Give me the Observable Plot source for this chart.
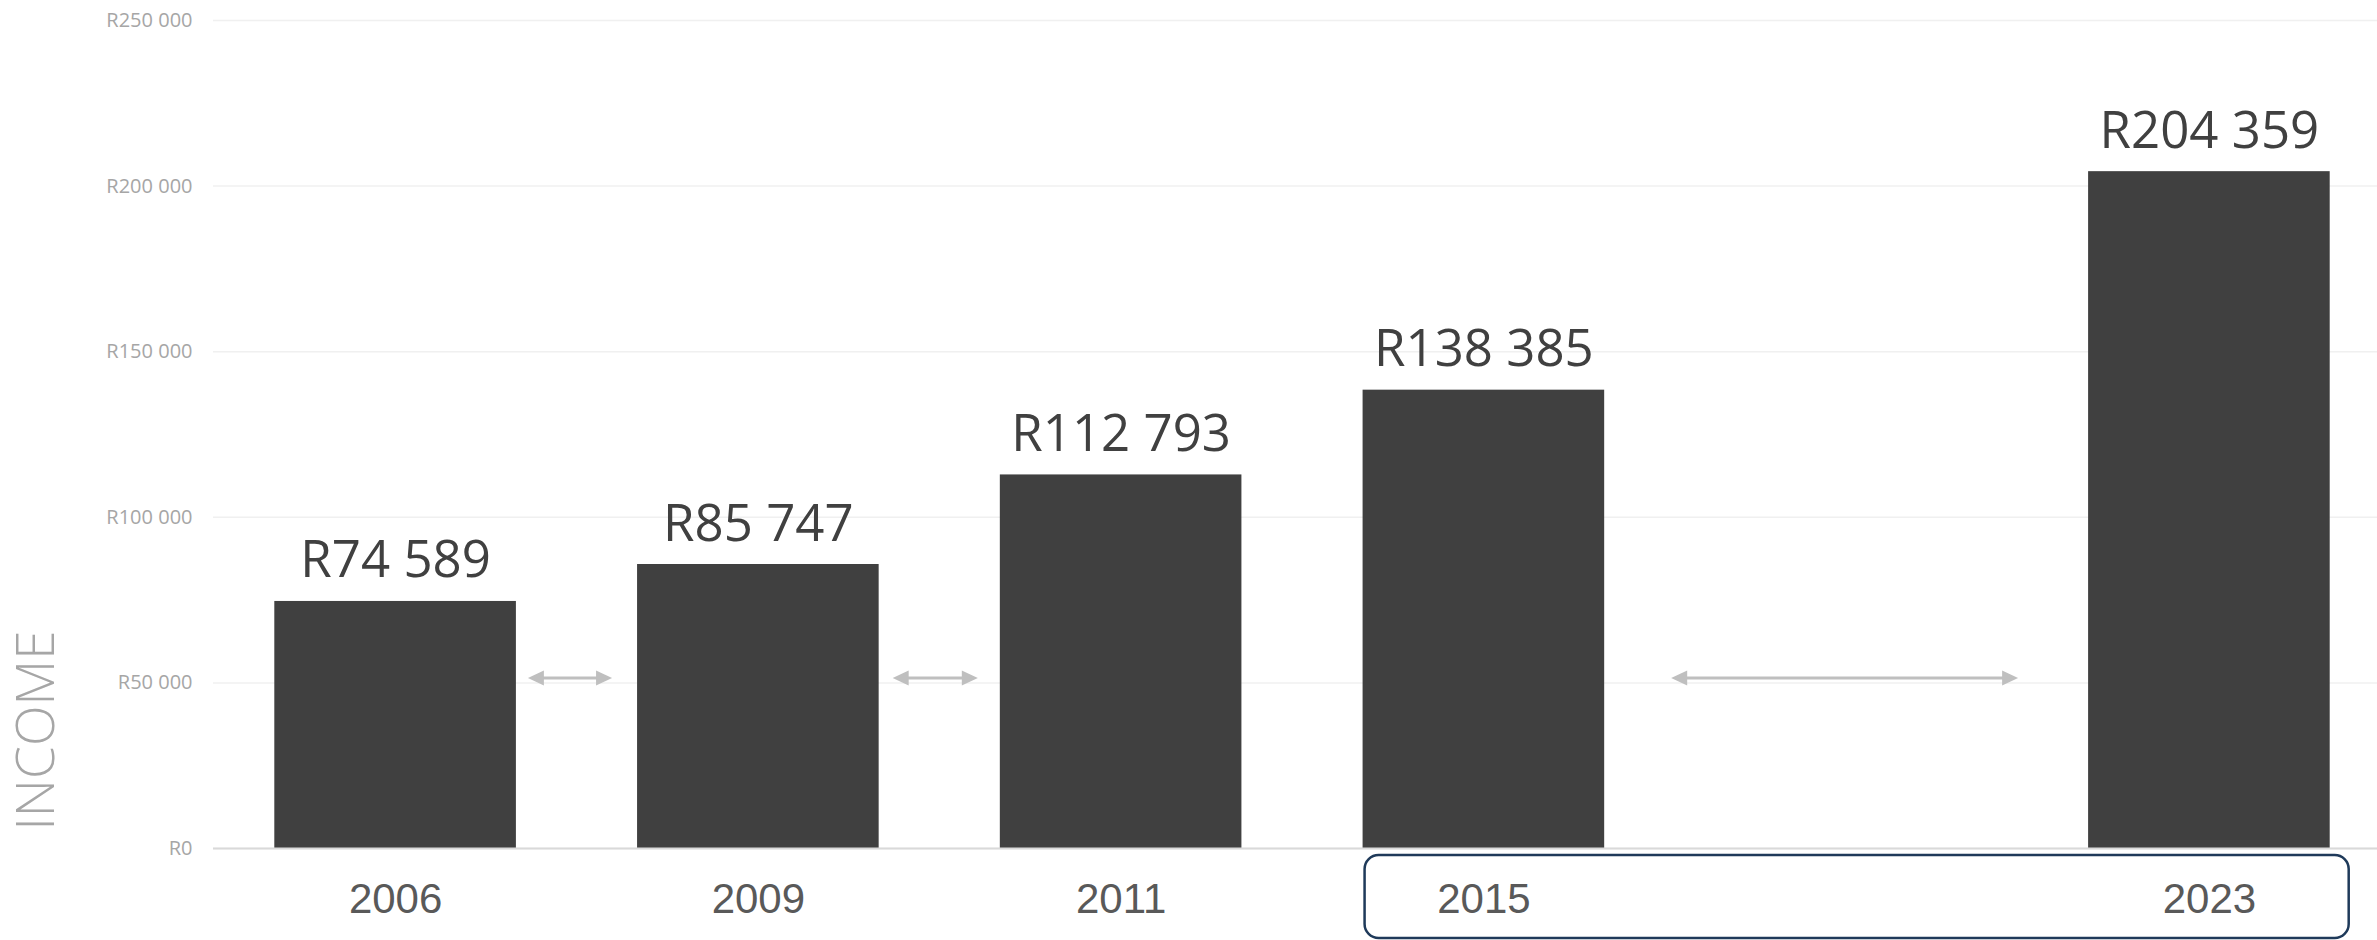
<!DOCTYPE html>
<html>
<head>
<meta charset="utf-8">
<script src="https://cdn.jsdelivr.net/npm/d3@7"></script>
<script src="https://cdn.jsdelivr.net/npm/@observablehq/plot@0.6"></script>
<style>
  html, body { margin: 0; padding: 0; background: #ffffff; }
  #chart svg { display: block; }
</style>
</head>
<body>
<div id="chart"></div>
<script>
// ---- data ----
const years = ["2006", "2009", "2011", "2015", "2023"];
const incomes = [74589, 85747, 112793, 138385, 204359];
const slots = ["2006", "2009", "2011", "2015", "gap", "2023"]; // empty slot between 2015 and 2023
const yTicks = [0, 50000, 100000, 150000, 200000, 250000];
const axisTitle = "INCOME";
const arrowPairs = [["2006", "2009"], ["2009", "2011"], ["2015", "2023"]];
const arrowLevel = 51300;
const boxedYears = ["2015", "2023"];

const data = years.map((year, i) => ({year, income: incomes[i]}));
const fmtR = (v) => "R" + d3.format(",")(v).replace(/,/g, " ");

// ---- styling ----
const arrowInsets = [[12, 25], [14, 22], [67, 70]];
const head = 16, headHalf = 7.5;

function annotations(index, scales, values, dimensions) {
  const x = scales.x, y = scales.y, bw = x.bandwidth();
  const g = d3.create("svg:g");
  arrowPairs.forEach(([a, b], i) => {
    const [s, e] = arrowInsets[i];
    const x0 = x(a) + bw + s, x1 = x(b) - e, yy = y(arrowLevel);
    g.append("line")
      .attr("x1", x0 + head - 2).attr("x2", x1 - head + 2)
      .attr("y1", yy).attr("y2", yy)
      .attr("stroke", "#bfbfbf").attr("stroke-width", 3);
    g.append("path")
      .attr("d", `M${x0},${yy}L${x0 + head},${yy - headHalf}L${x0 + head},${yy + headHalf}Z`)
      .attr("fill", "#bfbfbf");
    g.append("path")
      .attr("d", `M${x1},${yy}L${x1 - head},${yy - headHalf}L${x1 - head},${yy + headHalf}Z`)
      .attr("fill", "#bfbfbf");
  });
  const bx0 = x(boxedYears[0]) + 2;
  const bx1 = x(boxedYears[1]) + bw + 19;
  const by0 = dimensions.height - dimensions.marginBottom + 7;
  g.append("rect")
    .attr("x", bx0).attr("y", by0)
    .attr("width", bx1 - bx0).attr("height", 83)
    .attr("rx", 14).attr("ry", 14)
    .attr("fill", "none")
    .attr("stroke", "#1f3a5a").attr("stroke-width", 2.5);
  return g.node();
}

const chart = Plot.plot({
  width: 2377,
  height: 940,
  marginLeft: 213,
  marginRight: -14,
  marginTop: 20,
  marginBottom: 92,
  style: {background: "#ffffff"},
  x: {type: "band", domain: slots, paddingInner: 0.334, paddingOuter: 0.169, round: false},
  y: {domain: [0, 250000]},
  marks: [
    Plot.gridY(yTicks, {stroke: "#f0f0f0", strokeOpacity: 1, strokeWidth: 1.5}),
    Plot.axisY({
      ticks: yTicks, tickSize: 0, tickPadding: 21, tickFormat: fmtR, label: null,
      fontSize: 20, fill: "#a6a6a6", fontFamily: "Open Sans"
    }),
    Plot.axisX({
      ticks: years, tickSize: 0, tickPadding: 35, label: null,
      fontSize: 42, fill: "#595959", fontFamily: "Liberation Sans"
    }),
    Plot.barY(data, {x: "year", y: "income", fill: "#404040"}),
    Plot.ruleY([0], {stroke: "#d9d9d9", strokeWidth: 2}),
    Plot.text(data, {
      x: "year", y: "income", text: (d) => fmtR(d.income),
      lineAnchor: "bottom", dy: -24,
      fontSize: 51, fill: "#404040", fontFamily: "Open Sans"
    }),
    Plot.text([axisTitle], {
      frameAnchor: "bottom-left", rotate: -90, dx: -176, dy: -118,
      textAnchor: "middle", lineAnchor: "middle",
      fontSize: 53, fontWeight: 300, fill: "#a6a6a6", fontFamily: "Open Sans"
    }),
    annotations
  ]
});
document.getElementById("chart").appendChild(chart);
</script>
</body>
</html>
